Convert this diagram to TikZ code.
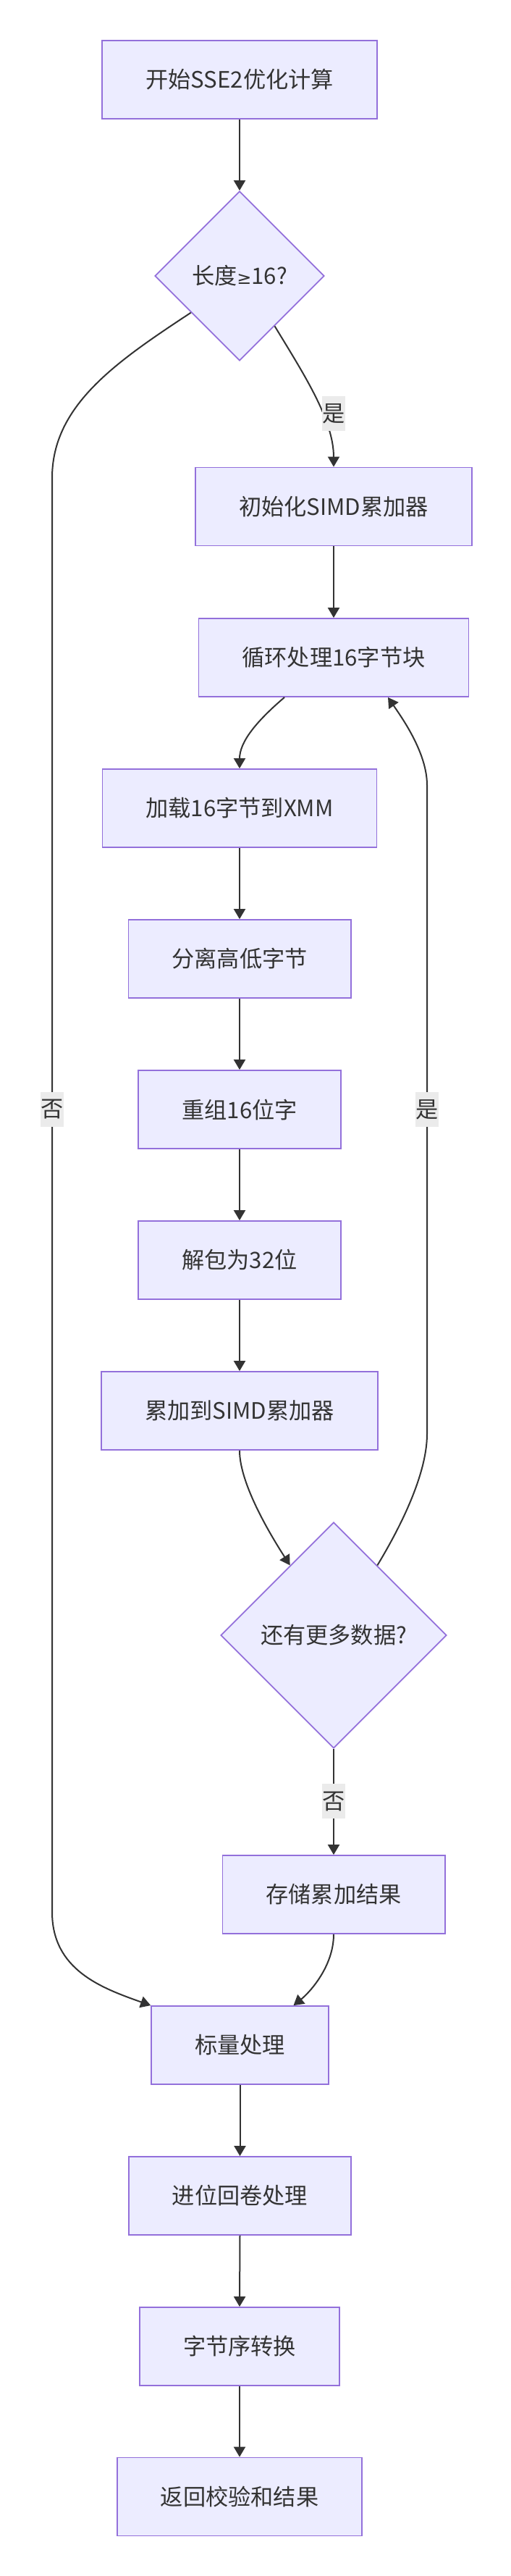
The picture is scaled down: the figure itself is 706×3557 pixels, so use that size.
\documentclass[tikz,border=0pt]{standalone}
\usepackage{fontspec}
\setmainfont{Noto Sans CJK SC}
\newfontfamily\symfont{DejaVu Sans}
\usetikzlibrary{shapes.geometric,arrows.meta,calc}
\definecolor{boxfill}{HTML}{ECECFF}
\definecolor{boxline}{HTML}{9370DB}
\definecolor{ink}{HTML}{333333}
\definecolor{lblbg}{HTML}{EBEBEB}
\begin{document}
\begin{tikzpicture}[x=0.5pt,y=-0.5pt,
  every node/.style={font=\fontsize{15.6pt}{18pt}\selectfont, text=ink},
  proc/.style={draw=boxline, fill=boxfill, line width=0.9pt, minimum height=54pt, inner xsep=30pt, inner ysep=0pt},
  decision/.style={diamond, aspect=1, draw=boxline, fill=boxfill, line width=0.9pt, inner sep=0pt},
  edge/.style={draw=ink, line width=1pt, -{Triangle[length=7pt,width=8pt]}},
  lbl/.style={fill=lblbg, inner xsep=0.3pt, inner ysep=0pt, minimum height=24pt}]
\useasboundingbox (0,0) rectangle (706,3557);
% nodes
\node[proc] (start) at (331,110) {开始SSE2优化计算};
\node[decision, minimum size=117pt] (d1) at (331,381) {长度{\symfont\fontsize{12pt}{14pt}\selectfont ≥}16?};
\node[proc] (init) at (461,699.5) {初始化SIMD累加器};
\node[proc] (loop) at (461,908) {循环处理16字节块};
\node[proc] (load) at (331,1116) {加载16字节到XMM};
\node[proc] (split) at (331,1324) {分离高低字节};
\node[proc] (regroup) at (331,1532) {重组16位字};
\node[proc] (unpack) at (331,1740) {解包为32位};
\node[proc] (acc) at (331,1948) {累加到SIMD累加器};
\node[decision, minimum size=156pt] (d2) at (461,2258) {还有更多数据?};
\node[proc] (store) at (461,2616) {存储累加结果};
\node[proc] (scal) at (331.5,2824) {标量处理};
\node[proc] (carry) at (331.5,3032) {进位回卷处理};
\node[proc] (bswap) at (331,3240) {字节序转换};
\node[proc] (ret) at (331,3447.5) {返回校验和结果};
% edges
\draw[edge] (start.south) -- (d1.north);
\draw[edge] (d1.-55) .. controls (420,517) and (461,580) .. (init.north);
\draw[edge] (d1.217) .. controls (160,500) and (72,560) .. (72,660) -- (72,2640) .. controls (72,2720) and (140,2745) .. (scal.north west);
\draw[edge] (init.south) -- (loop.north);
\draw[edge] ($(loop.south)+(-68,0)$) .. controls (353,997) and (331,1025) .. (load.north);
\draw[edge] (load.south) -- (split.north);
\draw[edge] (split.south) -- (regroup.north);
\draw[edge] (regroup.south) -- (unpack.north);
\draw[edge] (unpack.south) -- (acc.north);
\draw[edge] (acc.south) .. controls (331,2050) and (376,2123) .. (d2.122);
\draw[edge] (d2.58) .. controls (547,2119) and (590,2040) .. (590,1980) -- (590,1084) .. controls (590,1040) and (556,992) .. ($(loop.south)+(75,0)$);
\draw[edge] (d2.south) -- (store.north);
\draw[edge] (store.south) .. controls (461,2715) and (428,2751) .. ($(scal.north)+(74,0)$);
\draw[edge] (scal.south) -- (carry.north);
\draw[edge] (carry.south) -- (bswap.north);
\draw[edge] (bswap.south) -- (ret.north);
% edge labels
\node[lbl] (l1) at (461,571) {是};
\node[lbl] (l2) at (72,1532) {否};
\node[lbl] (l3) at (590,1532) {是};
\node[lbl] (l4) at (461,2487) {否};
\end{tikzpicture}
\end{document}
